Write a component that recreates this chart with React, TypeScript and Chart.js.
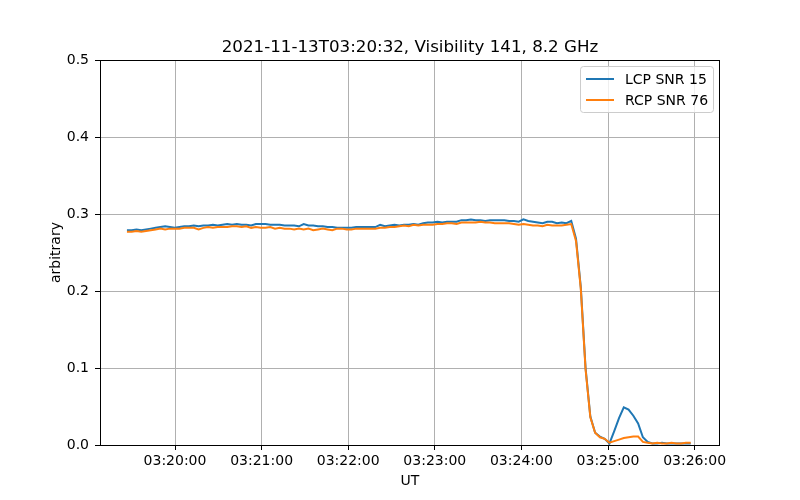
import React, { useEffect, useRef } from "react";
import { Chart, registerables } from "chart.js";

Chart.register(...registerables);

// Sampling grid: seconds relative to 03:20:00
const startSec = -33.3;
const stepSec = 3.31;

const lcp: number[] = [
  0.279, 0.279, 0.280, 0.279, 0.280, 0.281, 0.282, 0.283, 0.284, 0.283,
  0.282, 0.283, 0.284, 0.284, 0.285, 0.284, 0.285, 0.285, 0.286, 0.285,
  0.286, 0.287, 0.286, 0.287, 0.286, 0.286, 0.285, 0.287, 0.287, 0.287,
  0.286, 0.286, 0.286, 0.285, 0.285, 0.285, 0.284, 0.287, 0.285, 0.285,
  0.284, 0.284, 0.283, 0.283, 0.282, 0.282, 0.282, 0.282, 0.283, 0.283,
  0.283, 0.283, 0.283, 0.286, 0.284, 0.285, 0.286, 0.285, 0.286, 0.286,
  0.287, 0.286, 0.288, 0.289, 0.289, 0.290, 0.289, 0.290, 0.290, 0.290,
  0.292, 0.292, 0.293, 0.292, 0.292, 0.291, 0.292, 0.292, 0.292, 0.292,
  0.291, 0.291, 0.290, 0.293, 0.291, 0.290, 0.289, 0.288, 0.290, 0.290,
  0.288, 0.289, 0.288, 0.291, 0.268, 0.205, 0.100, 0.037, 0.016, 0.011,
  0.008, 0.002, 0.018, 0.035, 0.049, 0.046, 0.038, 0.028, 0.010, 0.004,
  0.002, 0.002, 0.003, 0.002, 0.002, 0.002, 0.002, 0.002, 0.002,
];

const rcp: number[] = [
  0.277, 0.277, 0.278, 0.277, 0.278, 0.279, 0.280, 0.281, 0.280, 0.281,
  0.281, 0.281, 0.282, 0.282, 0.282, 0.280, 0.282, 0.283, 0.282, 0.283,
  0.283, 0.283, 0.284, 0.284, 0.283, 0.284, 0.282, 0.283, 0.282, 0.282,
  0.283, 0.281, 0.282, 0.281, 0.281, 0.280, 0.281, 0.280, 0.281, 0.279,
  0.280, 0.281, 0.280, 0.279, 0.281, 0.281, 0.280, 0.280, 0.281, 0.281,
  0.281, 0.281, 0.281, 0.282, 0.282, 0.283, 0.283, 0.284, 0.285, 0.284,
  0.286, 0.285, 0.286, 0.286, 0.286, 0.287, 0.287, 0.288, 0.288, 0.287,
  0.289, 0.289, 0.289, 0.289, 0.290, 0.289, 0.289, 0.288, 0.288, 0.288,
  0.288, 0.287, 0.286, 0.287, 0.286, 0.285, 0.285, 0.284, 0.286, 0.285,
  0.285, 0.285, 0.286, 0.287, 0.265, 0.203, 0.098, 0.036, 0.016, 0.010,
  0.008, 0.003, 0.005, 0.007, 0.009, 0.010, 0.011, 0.011, 0.004, 0.003,
  0.002, 0.003, 0.002, 0.002, 0.003, 0.002, 0.002, 0.003, 0.003,
];

const xTickSeconds = [0, 60, 120, 180, 240, 300, 360];
const yTicks = [0.0, 0.1, 0.2, 0.3, 0.4, 0.5];
const seriesLabels = ["LCP SNR 15", "RCP SNR 76"];
const titleText = "2021-11-13T03:20:32, Visibility 141, 8.2 GHz";
const xLabel = "UT";
const yLabel = "arbitrary";

const FONT = "'DejaVu Sans', sans-serif";
const BLUE = "#1f77b4";
const ORANGE = "#ff7f0e";

function fmtTime(sec: number): string {
  const base = 3 * 3600 + 20 * 60;
  const t = Math.round(base + sec);
  const h = Math.floor(t / 3600);
  const m = Math.floor((t % 3600) / 60);
  const s = t % 60;
  const p = (n: number) => String(n).padStart(2, "0");
  return `${p(h)}:${p(m)}:${p(s)}`;
}

const decorPlugin = {
  id: "decor",
  afterDraw(chart: any) {
    const { ctx, chartArea } = chart;
    const { left, right, top, bottom } = chartArea;
    ctx.save();
    // axes frame
    ctx.strokeStyle = "#000";
    ctx.lineWidth = 1;
    ctx.strokeRect(left + 0.5, top + 0.5, right - left - 1, bottom - top);
    // title
    ctx.fillStyle = "#000";
    ctx.font = `16.7px ${FONT}`;
    ctx.textAlign = "center";
    ctx.textBaseline = "alphabetic";
    ctx.fillText(titleText, (left + right) / 2, 52);
    // axis labels
    ctx.font = `14px ${FONT}`;
    ctx.fillText(xLabel, (left + right) / 2, 485);
    ctx.save();
    ctx.translate(60, (top + bottom) / 2);
    ctx.rotate(-Math.PI / 2);
    ctx.fillText(yLabel, 0, 0);
    ctx.restore();
    // legend
    const bx = 580.5, by = 66.5, bw = 133, bh = 46, r = 3;
    ctx.beginPath();
    ctx.moveTo(bx + r, by);
    ctx.lineTo(bx + bw - r, by);
    ctx.arcTo(bx + bw, by, bx + bw, by + r, r);
    ctx.lineTo(bx + bw, by + bh - r);
    ctx.arcTo(bx + bw, by + bh, bx + bw - r, by + bh, r);
    ctx.lineTo(bx + r, by + bh);
    ctx.arcTo(bx, by + bh, bx, by + bh - r, r);
    ctx.lineTo(bx, by + r);
    ctx.arcTo(bx, by, bx + r, by, r);
    ctx.closePath();
    ctx.fillStyle = "rgba(255,255,255,0.8)";
    ctx.fill();
    ctx.strokeStyle = "#cccccc";
    ctx.lineWidth = 1;
    ctx.stroke();
    const colors = [BLUE, ORANGE];
    const ys = [79, 100];
    ctx.textAlign = "left";
    ctx.textBaseline = "middle";
    ctx.font = `14px ${FONT}`;
    for (let i = 0; i < 2; i++) {
      ctx.strokeStyle = colors[i];
      ctx.lineWidth = 2;
      ctx.beginPath();
      ctx.moveTo(586, ys[i]);
      ctx.lineTo(614, ys[i]);
      ctx.stroke();
      ctx.fillStyle = "#000";
      ctx.fillText(seriesLabels[i], 625, ys[i] + 1);
    }
    ctx.restore();
  },
};

export default function App() {
  const ref = useRef<HTMLCanvasElement | null>(null);
  useEffect(() => {
    if (!ref.current) return;
    const toPts = (arr: number[]) =>
      arr.map((v, i) => ({ x: startSec + i * stepSec, y: v }));
    const chart = new Chart(ref.current, {
      type: "line",
      data: {
        datasets: [
          {
            label: seriesLabels[0],
            data: toPts(lcp),
            borderColor: BLUE,
            borderWidth: 2,
            pointRadius: 0,
            tension: 0,
            order: 2,
          },
          {
            label: seriesLabels[1],
            data: toPts(rcp),
            borderColor: ORANGE,
            borderWidth: 2,
            pointRadius: 0,
            tension: 0,
            order: 1,
          },
        ],
      },
      options: {
        animation: false,
        responsive: false,
        devicePixelRatio: 1,
        layout: { padding: { left: 0, right: 80, top: 60, bottom: 0 } },
        plugins: {
          legend: { display: false },
          title: { display: false },
          tooltip: { enabled: false },
        },
        scales: {
          x: {
            type: "linear",
            min: (100 - 175) * (60 / 86.6),
            max: (720 - 175) * (60 / 86.6),
            afterBuildTicks: (s: any) => {
              s.ticks = xTickSeconds.map((v) => ({ value: v }));
            },
            afterFit: (s: any) => {
              s.height = 55;
            },
            grid: {
              color: "#b0b0b0",
              lineWidth: 1,
              tickColor: "#000",
              tickLength: 5,
              drawOnChartArea: true,
            },
            border: { display: false },
            ticks: {
              color: "#000",
              font: { family: FONT, size: 14 },
              padding: 3,
              maxRotation: 0,
              autoSkip: false,
              callback: (v: any) => fmtTime(Number(v)),
            },
          },
          y: {
            type: "linear",
            min: 0,
            max: 0.5,
            afterBuildTicks: (s: any) => {
              s.ticks = yTicks.map((v) => ({ value: v }));
            },
            afterFit: (s: any) => {
              s.width = 100;
            },
            grid: {
              color: "#b0b0b0",
              lineWidth: 1,
              tickColor: "#000",
              tickLength: 5,
            },
            border: { display: false },
            ticks: {
              color: "#000",
              font: { family: FONT, size: 14 },
              padding: 6,
              autoSkip: false,
              callback: (v: any) => Number(v).toFixed(1),
            },
          },
        },
      },
      plugins: [decorPlugin],
    });
    return () => chart.destroy();
  }, []);
  return (
    <div style={{ position: "fixed", left: 0, top: 0, width: 800, height: 500, background: "#fff" }}>
      <canvas ref={ref} width={800} height={500} style={{ display: "block" }} />
    </div>
  );
}
